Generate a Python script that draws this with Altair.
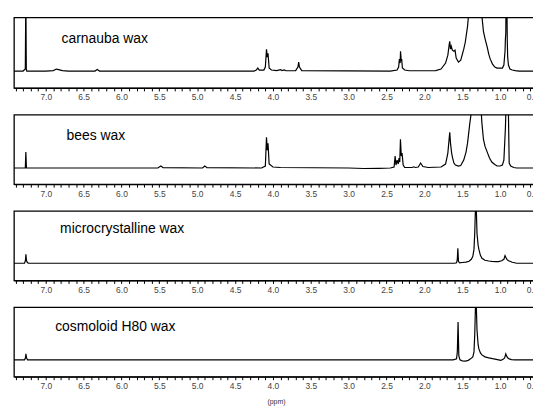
import altair as alt
import pandas as pd

# ---- spectra: chemical shift (ppm) and signal height (arbitrary units, 0 = baseline) ----
carnauba_ppm = [7.42, 7.30, 7.27, 7.263, 7.257, 7.25, 7.0, 6.9, 6.86, 6.83, 6.78, 6.7, 6.35, 6.32, 6.29,
                4.25, 4.22, 4.20, 4.18, 4.12, 4.10, 4.085, 4.075, 4.065, 4.05, 4.02, 3.95, 3.90, 3.88, 3.85, 3.83,
                3.70, 3.67, 3.66, 3.65, 3.62, 2.45, 2.36, 2.34, 2.33, 2.32, 2.315, 2.305, 2.30, 2.29, 2.26, 2.2,
                1.85, 1.78, 1.72, 1.69, 1.67, 1.665, 1.655, 1.645, 1.63, 1.61, 1.595, 1.58, 1.55, 1.52, 1.48,
                1.46, 1.43, 1.40, 1.32, 1.26, 1.24, 1.22, 1.20, 1.17, 1.15, 1.13, 1.10, 1.07, 1.04, 1.00, 0.97,
                0.95, 0.935, 0.93, 0.925, 0.92, 0.912, 0.905, 0.90, 0.89, 0.87, 0.84, 0.80, 0.75, 0.45]
carnauba_int = [0, 0, 2, 80, 2, 0, 0, 0.5, 2, 1.5, 0.5, 0, 0, 1.5, 0,
                0, 1, 3, 1, 1, 4, 22, 14, 18, 3, 1, 0.5, 1.5, 0.5, 1.2, 0.3,
                0.5, 4, 9, 4, 0.5, 0, 1, 4, 12, 8, 20, 10, 12, 3, 1, 0.3,
                0.5, 2, 8, 16, 28, 30, 22, 25, 21, 20, 21, 13, 9, 11, 22,
                29, 45, 70, 90, 70, 55, 40, 33, 24, 17, 12, 7, 4, 3, 3, 3,
                6, 20, 32, 38, 80, 80, 30, 14, 6, 2, 1, 0.5, 0, 0]

bees_ppm = [7.42, 7.27, 7.263, 7.255, 7.24, 5.52, 5.48, 5.45, 4.93, 4.90, 4.87,
            4.15, 4.10, 4.085, 4.075, 4.065, 4.05, 4.00, 3.90, 3.0, 2.80, 2.60, 2.45,
            2.40, 2.386, 2.375, 2.36, 2.345, 2.335, 2.325, 2.316, 2.305, 2.295, 2.28, 2.26, 2.16, 2.14, 2.12,
            2.08, 2.05, 2.02, 1.95, 1.78, 1.72, 1.69, 1.665, 1.655, 1.64, 1.63, 1.61, 1.59, 1.55, 1.52, 1.48,
            1.45, 1.43, 1.40, 1.32, 1.26, 1.24, 1.22, 1.20, 1.17, 1.14, 1.11, 1.07, 1.04, 1.00, 0.97, 0.95,
            0.93, 0.915, 0.905, 0.895, 0.88, 0.86, 0.82, 0.78, 0.45]
bees_int = [0, 0, 16, 0, 0, 0, 2, 0.3, 0, 2, 0.3,
            0, 2, 31, 18, 25, 4, 1, 0.5, 0, -0.5, -0.3, 0,
            1, 12, 3, 8, 4, 10, 6, 29, 12, 15, 3, 0.5, 0.5, 1.2, 0.5,
            1, 5, 1.5, 0.5, 1, 4, 15, 36, 25, 15, 11, 5, 3, 2, 2.5, 8,
            16, 25, 45, 90, 70, 45, 29, 22, 16, 10, 6, 3.5, 2, 2, 3, 8,
            40, 80, 60, 80, 5, 2, 0.5, 0, 0]

micro_ppm = [7.42, 7.28, 7.268, 7.262, 7.255, 7.245, 7.23, 1.60, 1.575, 1.565, 1.558, 1.55, 1.535,
             1.50, 1.45, 1.41, 1.38, 1.36, 1.345, 1.335, 1.32, 1.305, 1.29, 1.28, 1.26, 1.24, 1.20, 1.15, 1.11,
             1.05, 1.02, 0.98, 0.95, 0.935, 0.925, 0.91, 0.89, 0.87, 0.84, 0.78, 0.45]
micro_int = [0, 0, 3, 9, 3, 1, 0, 0, 0.5, 4, 15, 2, 0.5,
             0.8, 1.2, 2, 4, 7, 14, 30, 70, 30, 18, 14, 8, 5, 3, 2.3, 2,
             1.7, 1.7, 2.5, 4, 7.7, 6, 4, 2.5, 2, 1, 0, 0]

cosmo_ppm = [7.42, 7.28, 7.268, 7.262, 7.255, 7.24, 1.62, 1.575, 1.565, 1.555, 1.545, 1.53,
             1.50, 1.46, 1.42, 1.39, 1.36, 1.345, 1.335, 1.32, 1.305, 1.29, 1.28, 1.26, 1.24, 1.20, 1.15,
             1.10, 1.05, 1.02, 0.99, 0.96, 0.94, 0.925, 0.915, 0.90, 0.88, 0.85, 0.80, 0.45]
cosmo_int = [0, 0, 2, 6, 2, 0, 0, 1, 8, 38, 4, 0,
             -1, -1.2, -0.5, 1, 3, 8, 25, 70, 30, 15, 11, 7, 5, 3, 2,
             1.2, 0.5, 0, -0.5, 0.5, 2, 6, 4, 2, 1, 0.3, 0, 0]

names = ["carnauba wax", "bees wax", "microcrystalline wax", "cosmoloid H80 wax"]
spectra = [(carnauba_ppm, carnauba_int), (bees_ppm, bees_int),
           (micro_ppm, micro_int), (cosmo_ppm, cosmo_int)]

tick_values = [round(7.4 - 0.1 * k, 1) for k in range(70)]

FONT = "Liberation Sans"
W = 528
heights = [71, 70, 70, 70]
ydomains = [[-17, 54], [-16.3, 53.7], [-17.3, 52.7], [-17, 53]]
text_pos = [(48, 22), (53, 21), (46.5, 18.5), (41.5, 20)]

panels = []
for idx, (name, (ppm, inten)) in enumerate(zip(names, spectra)):
    df = pd.DataFrame({"ppm": ppm, "i": inten})
    last = idx == len(names) - 1
    xaxis = alt.Axis(
        values=tick_values,
        labelExpr="(round(datum.value*10) % 5 == 0) ? format(datum.value, '.1f') : ''",
        title="(ppm)" if last else None,
        titleFontSize=7,
        titleFontWeight="normal",
        titleColor="#333333",
        titlePadding=7,
        titleFont=FONT,
        labelFont=FONT,
        labelFontSize=8.5,
        labelColor="#444444",
        labelPadding=2,
        labelOverlap=False,
        tickSize=3,
        tickColor="black",
        domainColor="black",
        domainWidth=1.3,
        grid=False,
    )
    line = alt.Chart(df).mark_line(color="black", strokeWidth=1.2, clip=True).encode(
        x=alt.X("ppm:Q", scale=alt.Scale(domain=[7.42, 0.5], nice=False, zero=False), axis=xaxis),
        y=alt.Y("i:Q", scale=alt.Scale(domain=ydomains[idx], nice=False, zero=False), axis=None),
        order="ppm:Q",
    )
    tx, ty = text_pos[idx]
    label = alt.Chart(pd.DataFrame({"t": [name]})).mark_text(
        align="left", baseline="middle", fontSize=14, font=FONT, color="black"
    ).encode(text="t:N", x=alt.value(tx), y=alt.value(ty))
    panels.append(alt.layer(line, label).properties(width=W, height=heights[idx]))

chart = alt.vconcat(*panels, spacing=27, bounds="flush").properties(
    padding={"left": 5, "top": 7, "right": -7, "bottom": 0}
).configure_view(stroke="black", strokeWidth=1.3)

chart.save("out.html", embed_options={"renderer": "svg", "actions": False})
